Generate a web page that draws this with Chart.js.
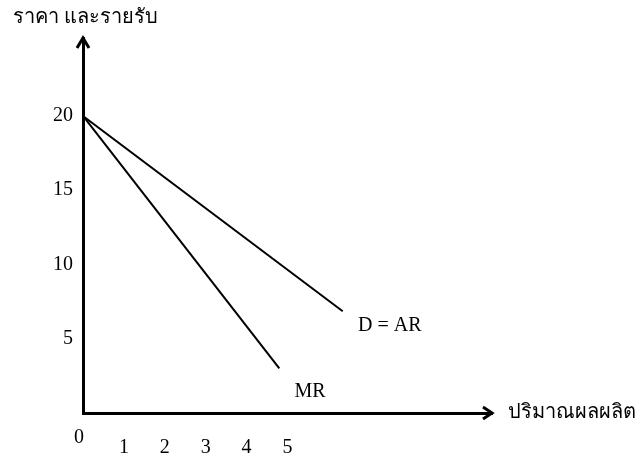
<!DOCTYPE html>
<html><head><meta charset="utf-8">
<script src="https://cdn.jsdelivr.net/npm/chart.js@4/dist/chart.umd.min.js"></script>
<style>html,body{margin:0;padding:0;background:#fff}#wrap{width:640px;height:457px;position:relative}</style>
</head><body><div id="wrap"><canvas id="c"></canvas></div>
<script>
// ---- data ----
const yAxisTitle = 'ราคา และรายรับ';
const xAxisTitle = 'ปริมาณผลผลิต';
const originLabel = '0';
const xTickValues = [1, 2, 3, 4, 5];
const yTickValues = [5, 10, 15, 20];
const demandName = 'D = AR';
const demandX = [0, 6.35];
const demandY = [20, 6.85];
const mrName = 'MR';
const mrX = [0, 4.8];
const mrY = [20, 3.0];

const toPts = (xs, ys) => xs.map((v, i) => ({x: v, y: ys[i]}));
const serif = '"Liberation Serif", "Times New Roman", serif';
const thai = '"Liberation Serif", "Noto Sans", "DejaVu Sans", serif';

const annot = {
  id: 'annot',
  afterDraw(chart, args, o) {
    const {ctx, chartArea: a, scales: {x, y}} = chart;
    const ox = x.getPixelForValue(0), oy = y.getPixelForValue(0);
    ctx.save();
    ctx.strokeStyle = '#000'; ctx.lineWidth = 3; ctx.lineJoin = 'miter'; ctx.lineCap = 'butt';
    ctx.beginPath(); ctx.moveTo(ox - 6, a.top + 10); ctx.lineTo(ox, a.top); ctx.lineTo(ox + 6, a.top + 10); ctx.stroke();
    ctx.beginPath(); ctx.moveTo(a.right - 9, oy - 6); ctx.lineTo(a.right, oy); ctx.lineTo(a.right - 9, oy + 6); ctx.stroke();
    ctx.fillStyle = '#000'; ctx.textBaseline = 'middle';
    ctx.font = '20px ' + thai; ctx.textAlign = 'left';
    ctx.fillText(yAxisTitle, 13, 18);
    ctx.fillText(xAxisTitle, a.right + 16, oy);
    ctx.font = '20px ' + serif; ctx.textAlign = 'center';
    ctx.fillText(demandName, x.getPixelForValue(o.demandAt[0]), y.getPixelForValue(o.demandAt[1]));
    ctx.fillText(mrName, x.getPixelForValue(o.mrAt[0]), y.getPixelForValue(o.mrAt[1]));
    ctx.fillText(originLabel, ox - 4, oy + 25);
    ctx.restore();
  }
};

new Chart(document.getElementById('c'), {
  type: 'scatter',
  data: {
    datasets: [
      {label: demandName, data: toPts(demandX, demandY), showLine: true, borderColor: '#000', borderWidth: 2, pointRadius: 0, fill: false},
      {label: mrName, data: toPts(mrX, mrY), showLine: true, borderColor: '#000', borderWidth: 2, pointRadius: 0, fill: false}
    ]
  },
  options: {
    responsive: true, maintainAspectRatio: false, animation: false,
    layout: {padding: {left: 0, top: 38, right: 148, bottom: 0}},
    plugins: {
      legend: {display: false}, tooltip: {enabled: false},
      annot: {demandAt: [7.5, 5.9], mrAt: [5.55, 1.4]}
    },
    scales: {
      x: {
        type: 'linear', min: 0, max: 10,
        grid: {display: false, drawTicks: false},
        border: {display: true, color: '#000', width: 3},
        ticks: {font: {family: serif, size: 20}, color: '#000', padding: 23, maxRotation: 0, autoSkip: false, callback: v => String(v)},
        afterBuildTicks: s => { s.ticks = xTickValues.map(v => ({value: v})); },
        afterFit: s => { s.height = 44; }
      },
      y: {
        type: 'linear', min: 0, max: 25.25,
        grid: {display: false, drawTicks: false},
        border: {display: true, color: '#000', width: 3},
        ticks: {font: {family: serif, size: 20}, color: '#000', padding: 10, autoSkip: false, callback: v => String(v)},
        afterBuildTicks: s => { s.ticks = yTickValues.map(v => ({value: v})); },
        afterFit: s => { s.width = 83; }
      }
    }
  },
  plugins: [annot]
});
</script>
</body></html>
